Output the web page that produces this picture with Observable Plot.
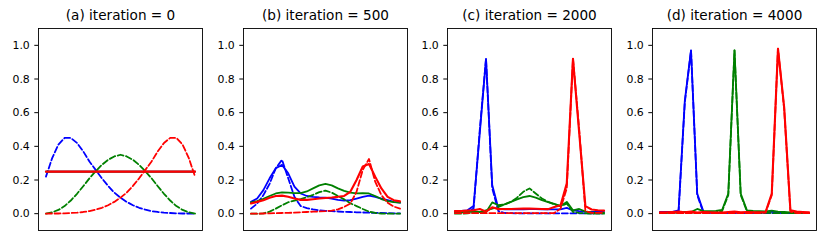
<!DOCTYPE html>
<html><head><meta charset="utf-8">
<script src="https://cdn.jsdelivr.net/npm/d3@7"></script>
<script src="https://cdn.jsdelivr.net/npm/@observablehq/plot@0.6"></script>
<style>
body{margin:0;background:#fff;}
#chart{position:relative;width:830px;height:246px;background:#fff;}
#chart svg{position:absolute;top:0;}
</style></head><body><div id="chart"></div>
<script>
// ---- data ----
const titles = ["(a) iteration = 0", "(b) iteration = 500", "(c) iteration = 2000", "(d) iteration = 4000"];
const yTicks = [0, 0.2, 0.4, 0.6, 0.8, 1.0];
const xIndex = d3.range(25);

// panel (a)
const aBlueDash  = [0.22,0.33,0.41,0.45,0.45,0.42,0.37,0.31,0.26,0.21,0.165,0.125,0.095,0.07,0.05,0.035,0.024,0.015,0.01,0.006,0.004,0.002,0.001,0.001,0.0];
const aGreenDash = [0.0,0.008,0.022,0.045,0.078,0.118,0.163,0.21,0.252,0.29,0.32,0.34,0.35,0.34,0.32,0.29,0.252,0.21,0.163,0.118,0.078,0.045,0.022,0.008,0.0];
const aRedDash   = [0.0,0.001,0.001,0.002,0.004,0.006,0.01,0.015,0.024,0.035,0.05,0.07,0.095,0.125,0.165,0.21,0.26,0.31,0.37,0.42,0.45,0.45,0.41,0.33,0.22];
const aBlueSolid  = [0.25,0.25,0.25,0.25,0.25,0.25,0.25,0.25,0.25,0.25,0.25,0.25,0.25,0.25,0.25,0.25,0.25,0.25,0.25,0.25,0.25,0.25,0.25,0.25,0.25];
const aGreenSolid = [0.25,0.25,0.25,0.25,0.25,0.25,0.25,0.25,0.25,0.25,0.25,0.25,0.25,0.25,0.25,0.25,0.25,0.25,0.25,0.25,0.25,0.25,0.25,0.25,0.25];
const aRedSolid   = [0.25,0.25,0.25,0.25,0.25,0.25,0.25,0.25,0.25,0.25,0.25,0.25,0.25,0.25,0.25,0.25,0.25,0.25,0.25,0.25,0.25,0.25,0.25,0.25,0.25];

// panel (b)
const bBlueDash  = [0.03,0.06,0.11,0.177,0.27,0.32,0.21,0.1,0.045,0.033,0.025,0.02,0.017,0.015,0.013,0.011,0.01,0.008,0.007,0.006,0.005,0.004,0.003,0.002,0.002];
const bGreenDash = [0.0,0.0,0.002,0.012,0.03,0.05,0.068,0.078,0.087,0.098,0.112,0.128,0.137,0.125,0.105,0.085,0.062,0.045,0.028,0.012,0.004,0.001,0.0,0.0,0.0];
const bRedDash   = [0.0,0.0,0.001,0.002,0.003,0.004,0.005,0.006,0.008,0.01,0.012,0.013,0.015,0.018,0.025,0.04,0.06,0.13,0.26,0.325,0.19,0.11,0.065,0.042,0.03];
const bBlueSolid  = [0.07,0.09,0.14,0.21,0.27,0.29,0.24,0.16,0.12,0.105,0.1,0.097,0.095,0.09,0.082,0.078,0.08,0.09,0.1,0.107,0.1,0.09,0.08,0.07,0.065];
const bGreenSolid = [0.067,0.075,0.088,0.105,0.12,0.127,0.125,0.122,0.122,0.132,0.15,0.168,0.177,0.168,0.15,0.135,0.125,0.121,0.122,0.12,0.105,0.087,0.075,0.068,0.065];
const bRedSolid   = [0.06,0.07,0.08,0.095,0.105,0.107,0.1,0.09,0.082,0.082,0.086,0.09,0.093,0.096,0.1,0.105,0.13,0.2,0.28,0.295,0.22,0.15,0.1,0.08,0.073];

// panel (c)
const cBlueDash  = [0.005,0.005,0.008,0.03,0.5,0.92,0.15,0.015,0.004,0.003,0.002,0.002,0.002,0.002,0.002,0.002,0.002,0.002,0.002,0.002,0.002,0.002,0.002,0.002,0.002];
const cGreenDash = [0.0,0.0,0.002,0.005,0.01,0.02,0.03,0.04,0.055,0.07,0.095,0.13,0.15,0.12,0.09,0.07,0.055,0.045,0.06,0.01,0.005,0.002,0.0,0.0,0.0];
const cRedDash   = [0.003,0.003,0.003,0.003,0.003,0.003,0.003,0.003,0.003,0.003,0.003,0.003,0.003,0.003,0.003,0.003,0.004,0.03,0.15,0.92,0.5,0.015,0.005,0.005,0.005];
const cBlueSolid  = [0.015,0.017,0.02,0.045,0.48,0.92,0.17,0.03,0.026,0.025,0.025,0.026,0.027,0.027,0.026,0.025,0.025,0.026,0.034,0.02,0.015,0.012,0.011,0.01,0.01];
const cGreenSolid = [0.01,0.01,0.01,0.012,0.01,0.008,0.067,0.05,0.055,0.07,0.085,0.098,0.105,0.095,0.08,0.068,0.058,0.045,0.07,0.02,0.028,0.012,0.008,0.005,0.005];
const cRedSolid   = [0.015,0.016,0.018,0.02,0.028,0.012,0.038,0.027,0.028,0.028,0.029,0.03,0.03,0.029,0.028,0.027,0.04,0.05,0.18,0.92,0.48,0.045,0.025,0.02,0.018];

// panel (d)
const dBlueDash  = [0.003,0.003,0.004,0.015,0.66,0.97,0.11,0.006,0.003,0.003,0.003,0.003,0.003,0.003,0.003,0.003,0.003,0.003,0.003,0.003,0.003,0.003,0.003,0.003,0.003];
const dGreenDash = [0.003,0.003,0.003,0.003,0.003,0.003,0.004,0.005,0.006,0.008,0.015,0.11,0.97,0.11,0.015,0.008,0.006,0.005,0.004,0.003,0.003,0.003,0.003,0.003,0.003];
const dRedDash   = [0.003,0.003,0.003,0.003,0.003,0.003,0.003,0.003,0.003,0.003,0.003,0.003,0.003,0.003,0.003,0.003,0.004,0.006,0.11,0.98,0.62,0.012,0.004,0.003,0.003];
const dBlueSolid  = [0.01,0.01,0.01,0.02,0.67,0.97,0.12,0.012,0.006,0.005,0.005,0.005,0.005,0.005,0.005,0.005,0.006,0.008,0.012,0.006,0.004,0.004,0.003,0.003,0.003];
const dGreenSolid = [0.005,0.005,0.006,0.008,0.01,0.01,0.028,0.015,0.015,0.016,0.022,0.12,0.97,0.12,0.02,0.016,0.015,0.014,0.018,0.012,0.01,0.008,0.006,0.005,0.005];
const dRedSolid   = [0.008,0.008,0.01,0.012,0.008,0.012,0.006,0.01,0.008,0.006,0.006,0.01,0.012,0.008,0.01,0.008,0.008,0.01,0.12,0.98,0.63,0.02,0.012,0.01,0.008];

const panels = [
  {blue: [aBlueDash, aBlueSolid], green: [aGreenDash, aGreenSolid], red: [aRedDash, aRedSolid]},
  {blue: [bBlueDash, bBlueSolid], green: [bGreenDash, bGreenSolid], red: [bRedDash, bRedSolid]},
  {blue: [cBlueDash, cBlueSolid], green: [cGreenDash, cGreenSolid], red: [cRedDash, cRedSolid]},
  {blue: [dBlueDash, dBlueSolid], green: [dGreenDash, dGreenSolid], red: [dRedDash, dRedSolid]}
];
const seriesNames = ["blue", "green", "red"];
const colors = {blue: "#0000ff", green: "#008000", red: "#ff0000"};

// ---- layout ----
const panelLefts = [0, 205, 409, 614];
const container = document.getElementById("chart");

panels.forEach((panel, p) => {
  const marks = [];
  for (const s of seriesNames) {
    const [dash, solid] = panel[s];
    const dashRows = xIndex.map(i => ({i, v: dash[i]}));
    const solidRows = xIndex.map(i => ({i, v: solid[i]}));
    marks.push(Plot.line(dashRows, {x: "i", y: "v", stroke: colors[s], strokeWidth: 1.8, strokeDasharray: "6,2.6"}));
    marks.push(Plot.line(solidRows, {x: "i", y: "v", stroke: colors[s], strokeWidth: s === "red" ? 2.1 : 1.8}));
  }
  marks.push(Plot.axisY({ticks: yTicks, tickFormat: d3.format(".1f"), tickSize: 3.7, tickPadding: 5, label: null, fontSize: 10.9}));
  marks.push(Plot.frame({stroke: "#000", strokeWidth: 0.9}));
  marks.push(Plot.text([titles[p]], {frameAnchor: "top", lineAnchor: "bottom", dy: -8.5, fontSize: 13.6, fill: "#000"}));
  const svg = Plot.plot({
    width: 204, height: 246,
    marginLeft: 38, marginRight: 2, marginTop: 28, marginBottom: 16,
    x: {domain: [-1.2, 25.2], axis: null},
    y: {domain: [-0.1, 1.1], axis: null},
    style: {fontFamily: "DejaVu Sans", fontSize: "10.9px", color: "#000", background: "transparent", overflow: "visible"},
    marks
  });
  svg.style.left = panelLefts[p] + "px";
  container.appendChild(svg);
});
</script></body></html>
